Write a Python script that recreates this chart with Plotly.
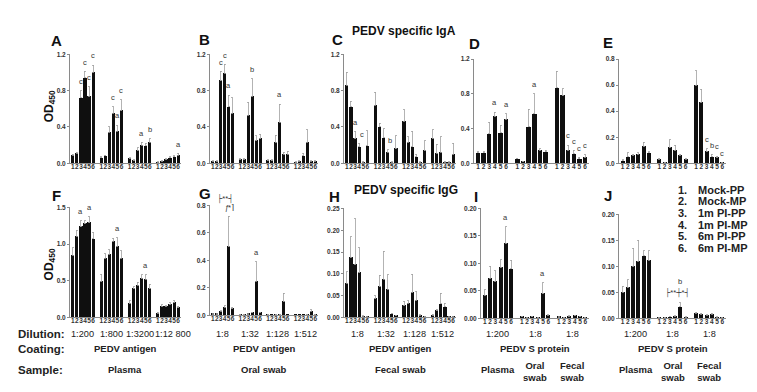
import plotly.graph_objects as go

FONT = "Arial, 'Liberation Sans', sans-serif"
bar_labels = ["1", "2", "3", "4", "5", "6"]

# ---------------- data ----------------
A_vals = [[0.09, 0.11, 0.72, 0.94, 0.74, 1.00], [0.06, 0.08, 0.34, 0.55, 0.35, 0.58],
          [0.05, 0.03, 0.14, 0.20, 0.19, 0.23], [0.01, 0.02, 0.04, 0.06, 0.07, 0.09]]
A_errs = [[0.01, 0.01, 0.08, 0.07, 0.10, 0.08], [0.01, 0.01, 0.06, 0.07, 0.07, 0.12],
          [0.01, 0.01, 0.03, 0.03, 0.03, 0.04], [0.005, 0.005, 0.01, 0.01, 0.01, 0.02]]
A_sig = [(0, 2, "c", 0), (0, 3, "c", 0), (0, 4, "c", 0), (0, 5, "c", 0), (1, 3, "c", 0),
         (1, 4, "a", 0), (1, 5, "c", 0), (2, 3, "a", 0), (2, 5, "b", 0), (3, 5, "a", 0)]

B_vals = [[0.02, 0.02, 0.91, 0.99, 0.62, 0.55], [0.04, 0.04, 0.53, 0.74, 0.25, 0.27],
          [0.03, 0.03, 0.23, 0.45, 0.10, 0.10], [0.01, 0.02, 0.08, 0.23, 0.02, 0.02]]
B_errs = [[0.005, 0.005, 0.10, 0.10, 0.13, 0.17], [0.01, 0.01, 0.14, 0.19, 0.05, 0.05],
          [0.01, 0.01, 0.08, 0.20, 0.02, 0.03], [0.005, 0.01, 0.03, 0.14, 0.01, 0.01]]
B_sig = [(0, 2, "c", 0), (0, 3, "c", 0), (0, 4, "a", 0), (1, 3, "b", 0), (2, 3, "a", 0)]

C_vals = [[0.86, 0.62, 0.27, 0.18, 0.01, 0.19], [0.64, 0.40, 0.28, 0.12, 0.01, 0.16],
          [0.46, 0.23, 0.18, 0.07, 0.01, 0.14], [0.27, 0.11, 0.12, 0.01, 0.01, 0.10]]
C_errs = [[0.14, 0.06, 0.08, 0.04, 0.01, 0.17], [0.14, 0.04, 0.10, 0.03, 0.005, 0.14],
          [0.13, 0.06, 0.17, 0.03, 0.005, 0.11], [0.10, 0.10, 0.17, 0.01, 0.005, 0.12]]
C_sig = [(0, 2, "a", 0), (0, 3.6, "c", 0), (1, 3.6, "b", 0)]

D_vals = [[0.12, 0.12, 0.34, 0.54, 0.35, 0.51], [0.05, 0.02, 0.42, 0.57, 0.15, 0.13],
          [0.87, 0.78, 0.15, 0.11, 0.05, 0.07]]
D_errs = [[0.01, 0.01, 0.13, 0.05, 0.09, 0.06], [0.005, 0.005, 0.20, 0.23, 0.02, 0.02],
          [0.19, 0.08, 0.06, 0.04, 0.02, 0.03]]
D_sig = [(0, 3, "a", 0), (0, 5, "a", 0), (1, 3, "a", 0), (2, 2, "c", 0), (2, 3, "c", 0),
         (2, 4, "c", 0), (2, 5, "c", 0)]

E_vals = [[0.02, 0.05, 0.06, 0.07, 0.13, 0.08], [0.03, 0.005, 0.12, 0.10, 0.06, 0.03],
          [0.60, 0.47, 0.09, 0.05, 0.045, 0.005]]
E_errs = [[0.005, 0.03, 0.01, 0.01, 0.03, 0.01], [0.01, 0.002, 0.06, 0.04, 0.01, 0.01],
          [0.11, 0.10, 0.02, 0.02, 0.01, 0.002]]
E_sig = [(2, 2, "c", 0), (2, 3, "b", 0), (2, 4, "c", 0), (2, 5, "c", 0)]

F_vals = [[0.85, 1.11, 1.24, 1.28, 1.29, 1.07], [0.49, 0.81, 0.86, 1.04, 0.97, 0.81],
          [0.19, 0.39, 0.44, 0.53, 0.52, 0.39], [0.06, 0.15, 0.15, 0.18, 0.20, 0.13]]
F_errs = [[0.10, 0.08, 0.08, 0.04, 0.08, 0.09], [0.10, 0.06, 0.06, 0.04, 0.12, 0.10],
          [0.04, 0.03, 0.04, 0.05, 0.06, 0.06], [0.01, 0.02, 0.01, 0.02, 0.03, 0.02]]
F_sig = [(0, 2, "a", 0), (0, 4, "a", 0), (1, 4, "a", 0), (2, 4, "a", 0)]

G_vals = [[0.01, 0.01, 0.03, 0.06, 0.50, 0.05], [0.005, 0.005, 0.01, 0.02, 0.25, 0.02],
          [0.005, 0.002, 0.005, 0.005, 0.10, 0.002], [0.002, 0.002, 0.002, 0.005, 0.03, 0.005]]
G_errs = [[0.002, 0.002, 0.005, 0.01, 0.22, 0.01], [0.001, 0.001, 0.003, 0.005, 0.14, 0.005],
          [0.001, 0.001, 0.001, 0.001, 0.06, 0.001], [0.001, 0.001, 0.001, 0.001, 0.01, 0.001]]
G_sig = [(0, 3.6, "ƒ", 0), (0, 4.5, "*⌉", 0), (0, 3.2, "├**┤", 1.5), (0, 4, "b", 2.8), (1, 4, "a", 0)]

H_vals = [[0.078, 0.137, 0.122, 0.103, 0.003, 0.001], [0.043, 0.070, 0.088, 0.065, 0.008, 0.004],
          [0.027, 0.033, 0.057, 0.040, 0.005, 0.002], [0.005, 0.015, 0.031, 0.024, 0.001, 0.001]]
H_errs = [[0.027, 0.048, 0.104, 0.057, 0.001, 0.001], [0.007, 0.027, 0.064, 0.033, 0.002, 0.001],
          [0.010, 0.005, 0.042, 0.020, 0.001, 0.001], [0.002, 0.004, 0.025, 0.008, 0.001, 0.001]]
H_sig = []

I_vals = [[0.042, 0.073, 0.067, 0.092, 0.137, 0.090], [0.003, 0.001, 0.003, 0.001, 0.045, 0.006],
          [0.002, 0.001, 0.004, 0.005, 0.003, 0.001]]
I_errs = [[0.010, 0.022, 0.020, 0.015, 0.030, 0.016], [0.001, 0.0005, 0.001, 0.0005, 0.020, 0.001],
          [0.001, 0.0005, 0.001, 0.001, 0.001, 0.0005]]
I_sig = [(0, 4, "a", 0), (1, 4, "a", 0)]

J_vals = [[0.050, 0.059, 0.100, 0.110, 0.120, 0.112], [0.001, 0.001, 0.003, 0.004, 0.022, 0.002],
          [0.010, 0.008, 0.006, 0.008, 0.002, 0.001]]
J_errs = [[0.012, 0.015, 0.035, 0.040, 0.010, 0.018], [0.0005, 0.0005, 0.001, 0.001, 0.008, 0.001],
          [0.002, 0.002, 0.001, 0.002, 0.001, 0.0005]]
J_sig = [(1, 3.5, "├**┼*┤", 0), (1, 4, "b", 2.6)]

F_dil = ["1:200", "1:800", "1:3200", "1:12 800"]
G_dil = ["1:8", "1:32", "1:128", "1:512"]
H_dil = ["1:8", "1:32", "1:128", "1:512"]
I_dil = ["1:200", "1:8", "1:8"]
J_dil = ["1:200", "1:8", "1:8"]
coatings = ["PEDV antigen", "PEDV antigen", "PEDV antigen", "PEDV S protein", "PEDV S protein"]
samples_row = ["Plasma", "Oral swab", "Fecal swab"]
samples_group = ["Plasma", "Oral<br>swab", "Fecal<br>swab"]
legend_items = ["Mock-PP", "Mock-MP", "1m PI-PP", "1m PI-MP", "6m PI-PP", "6m PI-MP"]

# ---------------- layout geometry (pixels) ----------------
W, H = 757, 392
panels = [
    dict(name="A", vals=A_vals, errs=A_errs, sig=A_sig, ymax=1.2, dt=0.4, fmt=".1f", box=(62, 173, 43, 154), lab=(48, 29)),
    dict(name="B", vals=B_vals, errs=B_errs, sig=B_sig, ymax=1.2, dt=0.4, fmt=".1f", box=(202, 310, 43, 154), lab=(196, 28)),
    dict(name="C", vals=C_vals, errs=C_errs, sig=C_sig, ymax=1.2, dt=0.4, fmt=".1f", box=(336, 448, 43, 154), lab=(329, 28)),
    dict(name="D", vals=D_vals, errs=D_errs, sig=D_sig, ymax=1.2, dt=0.4, fmt=".1f", box=(466, 581, 48, 154), lab=(466, 32)),
    dict(name="E", vals=E_vals, errs=E_errs, sig=E_sig, ymax=0.8, dt=0.2, fmt=".1f", box=(611, 718, 48, 154), lab=(600, 31)),
    dict(name="F", vals=F_vals, errs=F_errs, sig=F_sig, ymax=1.5, dt=0.5, fmt=".1f", box=(62, 173, 199, 311), lab=(48, 187), dil=F_dil),
    dict(name="G", vals=G_vals, errs=G_errs, sig=G_sig, ymax=0.8, dt=0.2, fmt=".1f", box=(202, 310, 197, 309), lab=(197, 185), dil=G_dil),
    dict(name="H", vals=H_vals, errs=H_errs, sig=H_sig, ymax=0.25, dt=0.05, fmt=".2f", box=(336, 448, 200, 311), lab=(326, 188), dil=H_dil),
    dict(name="I", vals=I_vals, errs=I_errs, sig=I_sig, ymax=0.20, dt=0.05, fmt=".2f", box=(473, 581, 200, 312), lab=(468, 188), dil=I_dil),
    dict(name="J", vals=J_vals, errs=J_errs, sig=J_sig, ymax=0.20, dt=0.05, fmt=".2f", box=(611, 718, 206, 312), lab=(600, 187), dil=J_dil),
]

def px(x):
    return x / W

def py(y):
    return 1 - y / H

fig = go.Figure()
annotations = []
GAP = 7

def txt_ann(x, y, text, size, bold=False, xref="paper", yref="paper", xanchor="center",
            yanchor="middle", color="#222", angle=0):
    f = dict(family=FONT, size=size, color=color)
    if bold:
        f["weight"] = "bold"
    return dict(xref=xref, yref=yref, x=x, y=y, text=text, showarrow=False, xanchor=xanchor,
                yanchor=yanchor, textangle=angle, font=f)

for k, p in enumerate(panels):
    idx = k + 1
    xa = "x" if idx == 1 else f"x{idx}"
    ya = "y" if idx == 1 else f"y{idx}"
    xs, ys, es, tt = [], [], [], []
    for g, (gv, ge) in enumerate(zip(p["vals"], p["errs"])):
        for i, (v, e) in enumerate(zip(gv, ge)):
            xs.append(g * GAP + i)
            ys.append(v)
            es.append(e)
            tt.append(bar_labels[i])
    fig.add_trace(go.Bar(
        x=xs, y=ys, width=0.78, marker=dict(color="#0f0f0f", line=dict(width=0)),
        error_y=dict(type="data", array=es, arrayminus=[0] * len(es), symmetric=False,
                     color="#a0a0a0", thickness=0.8, width=1),
        xaxis=xa, yaxis=ya, showlegend=False, hoverinfo="skip"))
    ng = len(p["vals"])
    x0, x1, yt, yb = p["box"]
    nt = int(round(p["ymax"] / p["dt"]))
    tv = [round(j * p["dt"], 4) for j in range(nt + 1)]
    fig.layout[("xaxis" if idx == 1 else f"xaxis{idx}")] = dict(
        domain=[px(x0), px(x1)], anchor=ya, range=[-0.7, (ng - 1) * GAP + 5.7],
        tickvals=xs, ticktext=tt, tickangle=0, ticks="", showgrid=False, zeroline=False,
        showline=True, linecolor="#8a8a8a", linewidth=1, ticklabelstandoff=-3,
        tickfont=dict(family=FONT, size=6.5, color="#333", weight="bold"))
    fig.layout[("yaxis" if idx == 1 else f"yaxis{idx}")] = dict(
        domain=[py(yb), py(yt)], anchor=xa, range=[0, p["ymax"]], tickvals=tv, tickformat=p["fmt"],
        ticks="outside", ticklen=2, tickcolor="#8a8a8a", showgrid=False, zeroline=False,
        showline=True, linecolor="#8a8a8a", linewidth=1,
        tickfont=dict(family=FONT, size=6.5, color="#333", weight="bold"))
    # significance letters
    off = p["ymax"] * 0.025
    for (g, i, txt, lvl) in p["sig"]:
        lo, hi = int(i), int(i + 0.999)
        top = max(p["vals"][g][j] + p["errs"][g][j] for j in range(lo, min(hi, 5) + 1))
        annotations.append(txt_ann(g * GAP + i, top + off + lvl * off * 1.8, txt, 7.5,
                                   xref=xa, yref=ya, yanchor="bottom", color="#333"))
    # panel letter
    annotations.append(txt_ann(px(p["lab"][0]), py(p["lab"][1]), p["name"], 15, bold=True, color="#111"))
    # dilution labels
    if "dil" in p:
        for g, d in enumerate(p["dil"]):
            annotations.append(txt_ann(g * GAP + 2.5 + (1.2 if len(d) > 6 else 0), py(328), d, 9.2, xref=xa))

# coating row and sample row
row2 = panels[5:]
for p, c in zip(row2, coatings):
    x0, x1 = p["box"][0], p["box"][1]
    annotations.append(txt_ann(px((x0 + x1) / 2), py(343), c, 9.5, bold=True))
for p, s in zip(row2[:3], samples_row):
    x0, x1 = p["box"][0], p["box"][1]
    annotations.append(txt_ann(px((x0 + x1) / 2), py(364), s, 9.5, bold=True))
for k in (8, 9):
    xa = f"x{k + 1}"
    for g, s in enumerate(samples_group):
        annotations.append(txt_ann(g * GAP + 2.5, py(366 if g else 364), s, 9.5, bold=True, xref=xa))

# row labels
for t, yy in (("Dilution:", 328), ("Coating:", 343), ("Sample:", 364)):
    annotations.append(txt_ann(px(8), py(yy), t, 11.5, bold=True, xanchor="left"))

# titles
annotations.append(txt_ann(px(396), py(19), "PEDV specific IgA", 12, bold=True, color="#111"))
annotations.append(txt_ann(px(398), py(181), "PEDV specific IgG", 12, bold=True, color="#111"))
# OD450
for yy in (96, 257):
    annotations.append(txt_ann(px(42), py(yy), "OD<sub>450</sub>", 12, bold=True, color="#111", angle=-90))
# group legend
for j, name in enumerate(legend_items):
    yy = 181 + j * 11.8
    annotations.append(txt_ann(px(668), py(yy), f"{j + 1}.", 11, bold=True, xanchor="left"))
    annotations.append(txt_ann(px(688), py(yy), name, 11, bold=True, xanchor="left"))

fig.update_layout(width=W, height=H, autosize=False, margin=dict(l=0, r=0, t=0, b=0),
                  paper_bgcolor="white", plot_bgcolor="white", annotations=annotations,
                  bargap=0, font=dict(family=FONT))
fig.write_html("out.html")
